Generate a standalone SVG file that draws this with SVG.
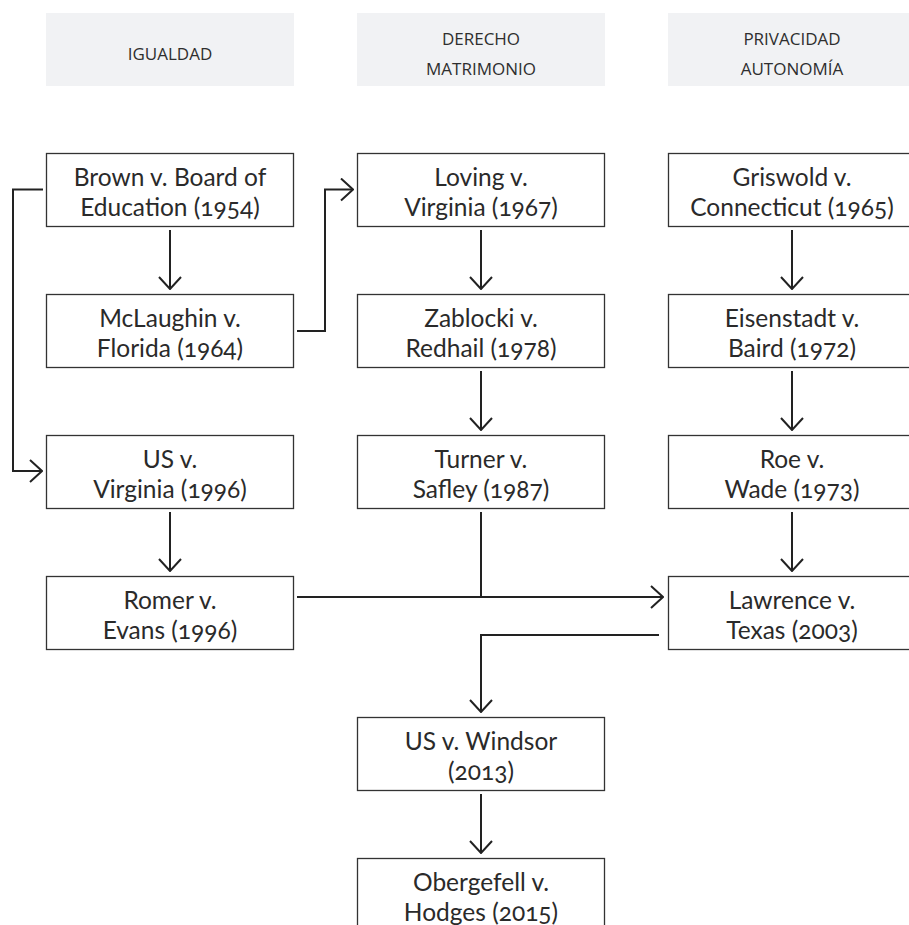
<svg xmlns="http://www.w3.org/2000/svg" width="909" height="925" viewBox="0 0 909 925">
<style>
.hdr{fill:#f1f2f4}
.ht{font-family:"Open Sans","DejaVu Sans",sans-serif;font-size:17px;font-weight:400;fill:#2e2e2e;text-anchor:middle}
.box{fill:#fff;stroke:#333;stroke-width:1.3}
.nt{font-family:Lato,"Open Sans",sans-serif;font-size:24.5px;font-weight:400;fill:#2a2a2a;text-anchor:middle;font-variant-numeric:oldstyle-nums}
.c{fill:none;stroke:#222;stroke-width:2}
</style>
<defs>
<marker id="ah" viewBox="0 0 14 24" refX="13" refY="12" markerWidth="14" markerHeight="24" markerUnits="userSpaceOnUse" orient="auto">
<path d="M1,1 L13,12 L1,23" fill="none" stroke="#222" stroke-width="2"/>
</marker>
</defs>
<rect width="909" height="925" fill="#fff"/>
<g id="h-igualdad"><rect class="hdr" x="46" y="13" width="248" height="73"/><text class="ht" x="170" y="60">IGUALDAD</text></g>
<g id="h-derecho"><rect class="hdr" x="357" y="13" width="248" height="73"/><text class="ht" x="481" y="45">DERECHO</text><text class="ht" x="481" y="75">MATRIMONIO</text></g>
<g id="h-privacidad"><rect class="hdr" x="668" y="13" width="248" height="73"/><text class="ht" x="792" y="45">PRIVACIDAD</text><text class="ht" x="792" y="75">AUTONOMÍA</text></g>

<g id="connectors">
<path class="c" marker-end="url(#ah)" d="M170,230 V289"/>
<path class="c" marker-end="url(#ah)" d="M43,189.5 H13 V471 H42"/>
<path class="c" marker-end="url(#ah)" d="M297,331 H325 V189.5 H353"/>
<path class="c" marker-end="url(#ah)" d="M481,230 V289"/>
<path class="c" marker-end="url(#ah)" d="M481,371 V430"/>
<path class="c" marker-end="url(#ah)" d="M792,230 V289"/>
<path class="c" marker-end="url(#ah)" d="M792,371 V430"/>
<path class="c" marker-end="url(#ah)" d="M170,512 V571"/>
<path class="c" marker-end="url(#ah)" d="M297,597 H663"/>
<path class="c" d="M481,512 V597"/>
<path class="c" marker-end="url(#ah)" d="M792,512 V571"/>
<path class="c" marker-end="url(#ah)" d="M659,635 H481 V712"/>
<path class="c" marker-end="url(#ah)" d="M481,794 V853"/>
</g>

<g id="brown"><rect class="box" x="46.5" y="153.5" width="247" height="73"/><text class="nt" x="170" y="186">Brown v. Board of</text><text class="nt" x="170" y="216">Education (1954)</text></g>
<g id="mclaughin"><rect class="box" x="46.5" y="294.5" width="247" height="73"/><text class="nt" x="170" y="327">McLaughin v.</text><text class="nt" x="170" y="357">Florida (1964)</text></g>
<g id="usvirginia"><rect class="box" x="46.5" y="435.5" width="247" height="73"/><text class="nt" x="170" y="468">US v.</text><text class="nt" x="170" y="498">Virginia (1996)</text></g>
<g id="romer"><rect class="box" x="46.5" y="576.5" width="247" height="73"/><text class="nt" x="170" y="609">Romer v.</text><text class="nt" x="170" y="639">Evans (1996)</text></g>

<g id="loving"><rect class="box" x="357.5" y="153.5" width="247" height="73"/><text class="nt" x="481" y="186">Loving v.</text><text class="nt" x="481" y="216">Virginia (1967)</text></g>
<g id="zablocki"><rect class="box" x="357.5" y="294.5" width="247" height="73"/><text class="nt" x="481" y="327">Zablocki v.</text><text class="nt" x="481" y="357">Redhail (1978)</text></g>
<g id="turner"><rect class="box" x="357.5" y="435.5" width="247" height="73"/><text class="nt" x="481" y="468">Turner v.</text><text class="nt" x="481" y="498">Safley (1987)</text></g>
<g id="windsor"><rect class="box" x="357.5" y="717.5" width="247" height="73"/><text class="nt" x="481" y="750">US v. Windsor</text><text class="nt" x="481" y="780">(2013)</text></g>
<g id="obergefell"><rect class="box" x="357.5" y="858.5" width="247" height="73"/><text class="nt" x="481" y="891">Obergefell v.</text><text class="nt" x="481" y="921">Hodges (2015)</text></g>

<g id="griswold"><rect class="box" x="668.5" y="153.5" width="247" height="73"/><text class="nt" x="792" y="186">Griswold v.</text><text class="nt" x="792" y="216">Connecticut (1965)</text></g>
<g id="eisenstadt"><rect class="box" x="668.5" y="294.5" width="247" height="73"/><text class="nt" x="792" y="327">Eisenstadt v.</text><text class="nt" x="792" y="357">Baird (1972)</text></g>
<g id="roe"><rect class="box" x="668.5" y="435.5" width="247" height="73"/><text class="nt" x="792" y="468">Roe v.</text><text class="nt" x="792" y="498">Wade (1973)</text></g>
<g id="lawrence"><rect class="box" x="668.5" y="576.5" width="247" height="73"/><text class="nt" x="792" y="609">Lawrence v.</text><text class="nt" x="792" y="639">Texas (2003)</text></g>
</svg>
